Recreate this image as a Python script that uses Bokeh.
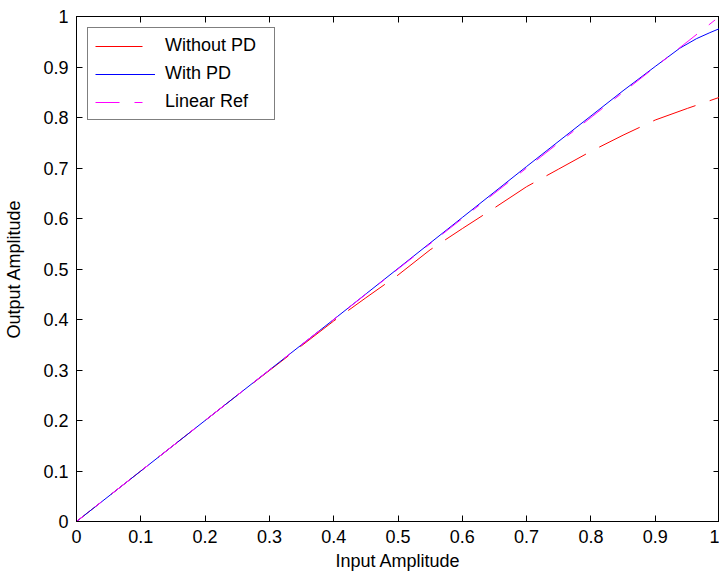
from bokeh.plotting import figure
from bokeh.models import LinearAxis, FixedTicker, Legend, LegendItem
from bokeh.embed import file_html
from bokeh.resources import INLINE

# ---- data ----
tick_values = [0.0, 0.1, 0.2, 0.3, 0.4, 0.5, 0.6, 0.7, 0.8, 0.9, 1.0]
tick_labels = ["0", "0.1", "0.2", "0.3", "0.4", "0.5", "0.6", "0.7", "0.8", "0.9", "1"]

x_without_pd = [0.0, 0.05, 0.1, 0.15, 0.2, 0.25, 0.3, 0.35, 0.4, 0.45, 0.5,
                0.55, 0.6, 0.65, 0.7, 0.75, 0.8, 0.85, 0.9, 0.95, 1.0]
y_without_pd = [0.0, 0.05, 0.1, 0.15, 0.2, 0.25, 0.299, 0.348, 0.397, 0.443, 0.488,
                0.538, 0.580, 0.621, 0.663, 0.698, 0.733, 0.765, 0.795, 0.818, 0.840]
x_with_pd = [0.0, 0.1, 0.2, 0.3, 0.4, 0.5, 0.6, 0.7, 0.8, 0.85, 0.9,
             0.938, 0.964, 0.985, 1.0]
y_with_pd = [0.0, 0.1, 0.2, 0.3, 0.4, 0.501, 0.602, 0.703, 0.803, 0.853, 0.901,
             0.937, 0.956, 0.968, 0.976]
x_ref = [0.0, 1.0]
y_ref = [0.0, 1.0]
legend_labels = ["Without PD", "With PD", "Linear Ref"]

FONT = "Liberation Sans"
FS = "18px"
NAN = float("nan")

p = figure(width=719, height=575, x_range=(0, 1), y_range=(0, 1),
           output_backend="svg", toolbar_location=None,
           min_border_left=76, min_border_right=0, min_border_top=16, min_border_bottom=54)
p.background_fill_color = "white"
p.border_fill_color = "white"
p.outline_line_color = "black"
p.xgrid.visible = False
p.ygrid.visible = False

overrides = {v: l for v, l in zip(tick_values, tick_labels)}
blank = {v: "" for v in tick_values}

def style_axis(ax, labels=True):
    ax.ticker = FixedTicker(ticks=tick_values, minor_ticks=[])
    ax.major_tick_in = 6
    ax.major_tick_out = 0
    ax.minor_tick_in = 0
    ax.minor_tick_out = 0
    ax.axis_line_color = "black"
    ax.major_tick_line_color = "black"
    ax.major_label_text_font = FONT
    ax.major_label_text_color = "black"
    if labels:
        ax.major_label_overrides = overrides
        ax.major_label_text_font_size = FS
        ax.major_label_standoff = 8
    else:
        ax.major_label_overrides = blank
        ax.major_label_text_font_size = "1px"
        ax.major_label_standoff = 0

style_axis(p.xaxis[0])
style_axis(p.yaxis[0])
p.xaxis.axis_label = "Input Amplitude"
p.yaxis.axis_label = "Output Amplitude"
for ax in (p.xaxis[0], p.yaxis[0]):
    ax.axis_label_text_font = FONT
    ax.axis_label_text_font_size = FS
    ax.axis_label_text_font_style = "normal"
    ax.axis_label_text_color = "black"
p.xaxis.axis_label_standoff = 5
p.yaxis.axis_label_standoff = 16

top = LinearAxis()
style_axis(top, labels=False)
p.add_layout(top, "above")
right = LinearAxis()
style_axis(right, labels=False)
p.add_layout(right, "right")

# plotted curves
p.line(x_without_pd, y_without_pd, line_color="#FF0000", line_width=1,
       line_dash="45 15", line_dash_offset=16)
p.line(x_with_pd, y_with_pd, line_color="#0000FF", line_width=1)
p.line(x_ref, y_ref, line_color="#FF00FF", line_width=1,
       line_dash="24 15 8 13", line_dash_offset=15)

# legend-only renderers (a single NaN point: nothing is drawn in the plot)
l_red = p.line([NAN], [NAN], line_color="#FF0000", line_width=1, line_dash="47 13")
l_blue = p.line([NAN], [NAN], line_color="#0000FF", line_width=1)
l_mag = p.line([NAN], [NAN], line_color="#FF00FF", line_width=1, line_dash="24 15 8 13")

legend = Legend(items=[LegendItem(label=legend_labels[0], renderers=[l_red]),
                       LegendItem(label=legend_labels[1], renderers=[l_blue]),
                       LegendItem(label=legend_labels[2], renderers=[l_mag])],
                location="top_left", margin=11, padding=7, spacing=7,
                glyph_width=60, glyph_height=18, label_height=18,
                label_standoff=10, label_width=102,
                label_text_font=FONT, label_text_font_size=FS,
                label_text_color="black",
                border_line_color="black", border_line_width=1,
                background_fill_color="white", background_fill_alpha=1.0)
p.add_layout(legend)

open("out.html", "w").write(file_html(p, INLINE))
